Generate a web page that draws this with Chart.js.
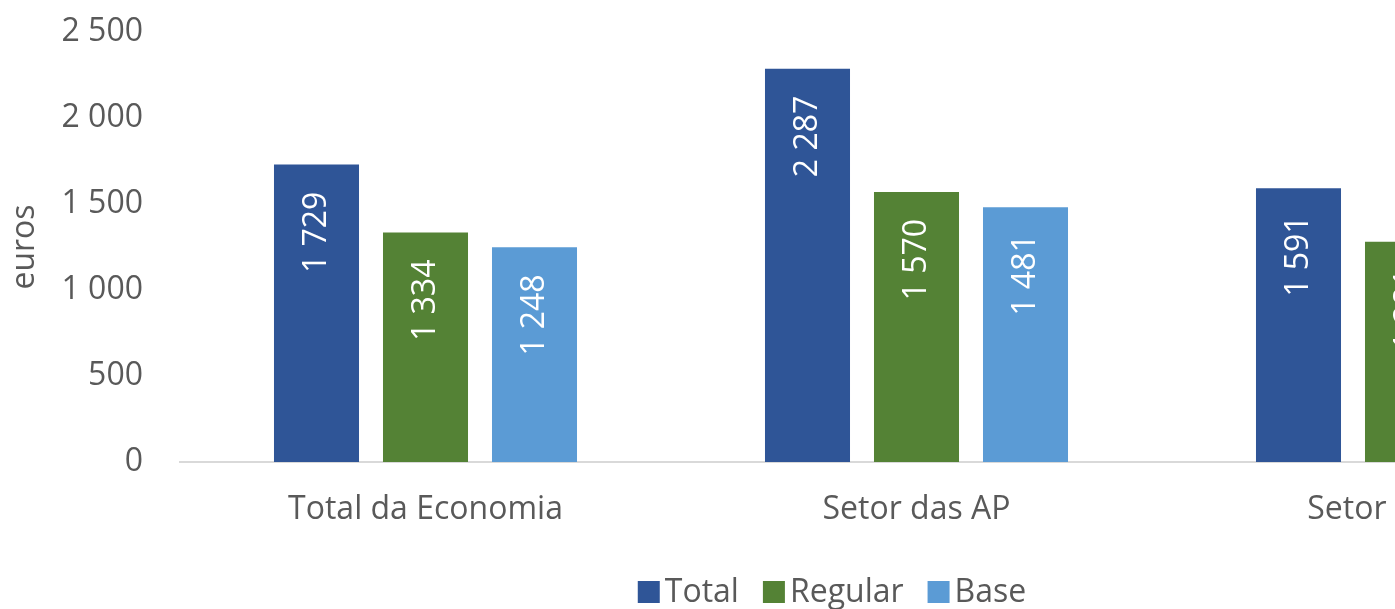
<!DOCTYPE html>
<html>
<head>
<meta charset="utf-8">
<script src="https://cdn.jsdelivr.net/npm/chart.js@4"></script>
<style>
  html, body { margin: 0; padding: 0; background: #fff; overflow: hidden; }
  #wrap { width: 1665px; height: 609px; }
</style>
</head>
<body>
<div id="wrap"><canvas id="remChart" width="1665" height="609"></canvas></div>
<script>
// valores (o terceiro grupo está cortado à direita)
const categorias = ['Total da Economia', 'Setor das AP', 'Setor Privado'];
const total = [1729, 2287, 1591];
const regular = [1334, 1570, 1281];
const base = [1248, 1481, 1196];
const yTicks = [0, 500, 1000, 1500, 2000, 2500];

const FONT = '"Open Sans", sans-serif';
const FS = 32;
const GREY = '#595959';

function fmt(n) {
    return String(n).replace(/\B(?=(\d{3})+(?!\d))/g, ' ');
}

// rótulos verticais dentro das barras
const barLabels = {
    id: 'barLabels',
    afterDatasetsDraw(chart) {
        const ctx = chart.ctx;
        ctx.save();
        ctx.font = FS + 'px ' + FONT;
        ctx.fillStyle = '#ffffff';
        chart.data.datasets.forEach((ds, i) => {
            chart.getDatasetMeta(i).data.forEach((bar, j) => {
                ctx.save();
                ctx.translate(bar.x, bar.y + 27);
                ctx.rotate(-Math.PI / 2);
                ctx.textAlign = 'right';
                ctx.textBaseline = 'middle';
                ctx.fillText(fmt(ds.data[j]), 0, 0);
                ctx.restore();
            });
        });
        ctx.restore();
    }
};

// legenda em baixo, caixas coladas ao texto
const bottomLegend = {
    id: 'bottomLegend',
    afterDraw(chart) {
        const ctx = chart.ctx;
        const box = 22, gapText = 5, gapItem = 24, cy = 592;
        ctx.save();
        ctx.font = FS + 'px ' + FONT;
        ctx.textBaseline = 'middle';
        ctx.textAlign = 'left';
        const items = chart.data.datasets.map(ds => ({
            text: ds.label, color: ds.backgroundColor, w: ctx.measureText(ds.label).width
        }));
        let totalW = 0;
        items.forEach((it, k) => { totalW += box + gapText + it.w + (k ? gapItem : 0); });
        let x = 832 - totalW / 2;
        items.forEach(it => {
            ctx.fillStyle = it.color;
            ctx.fillRect(x, cy - box / 2, box, box);
            ctx.fillStyle = GREY;
            ctx.fillText(it.text, x + box + gapText, cy + 1);
            x += box + gapText + it.w + gapItem;
        });
        ctx.restore();
    }
};

const ctx = document.getElementById('remChart').getContext('2d');

new Chart(ctx, {
    type: 'bar',
    data: {
        labels: categorias,
        datasets: [
            { label: 'Total', data: total, backgroundColor: '#2F5597' },
            { label: 'Regular', data: regular, backgroundColor: '#548235' },
            { label: 'Base', data: base, backgroundColor: '#5B9BD5' }
        ]
    },
    options: {
        responsive: false,
        devicePixelRatio: 1,
        animation: false,
        categoryPercentage: 0.666,
        barPercentage: 0.78,
        layout: { padding: { left: 0, top: 32, right: 12, bottom: 80 } },
        scales: {
            x: {
                grid: { display: false, drawTicks: false },
                border: { display: true, color: '#D9D9D9', width: 2 },
                ticks: { color: GREY, font: { family: FONT, size: FS }, padding: 29, maxRotation: 0 },
                afterFit: scale => { scale.height = 67; }
            },
            y: {
                min: 0,
                max: 2500,
                afterBuildTicks: scale => { scale.ticks = yTicks.map(v => ({ value: v })); },
                grid: { display: false, drawTicks: false },
                border: { display: false },
                ticks: { color: GREY, font: { family: FONT, size: FS }, padding: 37, callback: v => fmt(v) },
                title: { display: true, text: 'euros', color: GREY, font: { family: FONT, size: FS }, padding: { top: 6, bottom: 0 } },
                afterFit: scale => {
                    scale.width = 180;
                    scale.paddingTop = 0;
                    scale.paddingBottom = 0;
                }
            }
        },
        plugins: {
            legend: { display: false },
            tooltip: { enabled: false }
        }
    },
    plugins: [barLabels, bottomLegend]
});
</script>
</body>
</html>
